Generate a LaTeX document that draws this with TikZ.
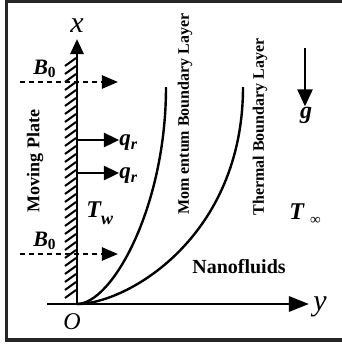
\documentclass[tikz,border=0pt]{standalone}
\usepackage{fontspec}
\setmainfont{Liberation Serif}
\usetikzlibrary{arrows.meta}
\usetikzlibrary{positioning}

\begin{document}
\begin{tikzpicture}[x=0.5pt,y=-0.5pt,
	axisarrow/.style={-{Triangle[length=7.5pt,width=6.5pt]},line width=1.4pt},
	fieldarrow/.style={-{Triangle[length=8pt,width=6.5pt]},line width=1.2pt,dash pattern=on 2.5pt off 2pt},
	heatarrow/.style={-{Triangle[length=7.5pt,width=7pt]},line width=1.2pt},
	layer/.style={line width=1.2pt},
	hatch/.style={line width=1pt},
	vlabel/.style={rotate=90,inner sep=0pt,font=\bfseries\fontsize{8}{9}\selectfont},
	symlabel/.style={inner sep=0pt,font=\bfseries\itshape\fontsize{12}{13}\selectfont}]

	\definecolor{framecolor}{rgb}{0.15,0.15,0.15}
	\useasboundingbox (0,0) rectangle (342,344);
	\draw[line width=1.8pt,framecolor] (342,1.5) -- (6.5,1.5) -- (6.5,340) -- (342,340);

	% axes and wall
	\coordinate (o) at (77,304);
	\coordinate (xtip) at (77,39);
	\coordinate (ybeg) at (47,304);
	\coordinate (ytip) at (309,304);
	\draw[axisarrow] (o) -- (xtip);
	\draw[-{Triangle[length=10pt,width=7.5pt]},line width=1.4pt] (ybeg) -- (ytip);
	\foreach \yy in {58,66,...,290}
		\draw[hatch] (65,\yy+8) -- (76,\yy);

	\node(xlab) at (77,26) [inner sep=0pt,font=\itshape\fontsize{15}{15}\selectfont]{x};
	\node(ylab) at (320,307) [inner sep=0pt,font=\itshape\fontsize{15}{15}\selectfont]{y};
	\node(olab) at (72,322) [inner sep=0pt,font=\itshape\fontsize{12}{12}\selectfont]{O};

	% magnetic field
	\node(b01) at (45,69) [symlabel,font=\bfseries\itshape\fontsize{11}{12}\selectfont]{B\textsubscript{\upshape 0}};
	\node(b02) at (45,241) [symlabel,font=\bfseries\itshape\fontsize{11}{12}\selectfont]{B\textsubscript{\upshape 0}};
	\coordinate (b1s) at (20,82);
	\coordinate (b1e) at (118,82);
	\coordinate (b2s) at (20,254);
	\coordinate (b2e) at (118,254);
	\draw[fieldarrow] (b1s) -- (b1e);
	\draw[fieldarrow] (b2s) -- (b2e);

	% radiation
	\coordinate (q1s) at (77,140);
	\coordinate (q2s) at (77,173);
	\node(qr1) at (119,143) [anchor=west,symlabel,font=\bfseries\itshape\fontsize{11.5}{12}\selectfont]{q\textsubscript{r}};
	\node(qr2) at (119,176) [anchor=west,symlabel,font=\bfseries\itshape\fontsize{11.5}{12}\selectfont]{q\textsubscript{r}};
	\draw[heatarrow] (q1s) -- (q1s -| qr1.west);
	\draw[heatarrow] (q2s) -- (q2s -| qr2.west);

	\node(tw) at (86,217) [anchor=base west,symlabel]{T\raisebox{-3.5pt}{\fontsize{9}{9}\selectfont w}};
	\node(tinf) at (289,219) [anchor=base west,symlabel]{T\hspace{3pt}\raisebox{-2.5pt}{\normalfont\fontsize{7.5}{7.5}\selectfont ∞}};

	% gravity
	\coordinate (gs) at (305,48);
	\node(g) at (306,115) [symlabel,font=\bfseries\itshape\fontsize{12}{13}\selectfont]{g};
	\draw[-{Triangle[length=8.5pt,width=7.5pt]},line width=1.3pt] (gs) -- (g.north -| gs);

	% boundary layers
	\coordinate (mtop) at (166,87);
	\coordinate (ttop) at (243,87);
	\draw[layer] (o) .. controls (112,304) and (166,207) .. (mtop);
	\draw[layer] (o) .. controls (127,304) and (243,237) .. (ttop);

	\node(plate) at (35,161) [vlabel,font=\bfseries\fontsize{9}{10}\selectfont]{Moving Plate};
	\node(mom) at (185,114) [vlabel]{Mom entum Boundary Layer};
	\node(therm) at (260,127) [vlabel]{Thermal Boundary Layer};
	\node(nano) at (239,267) [inner sep=0pt,font=\bfseries\fontsize{10}{12}\selectfont]{Nanofluids};

\end{tikzpicture}
\end{document}
